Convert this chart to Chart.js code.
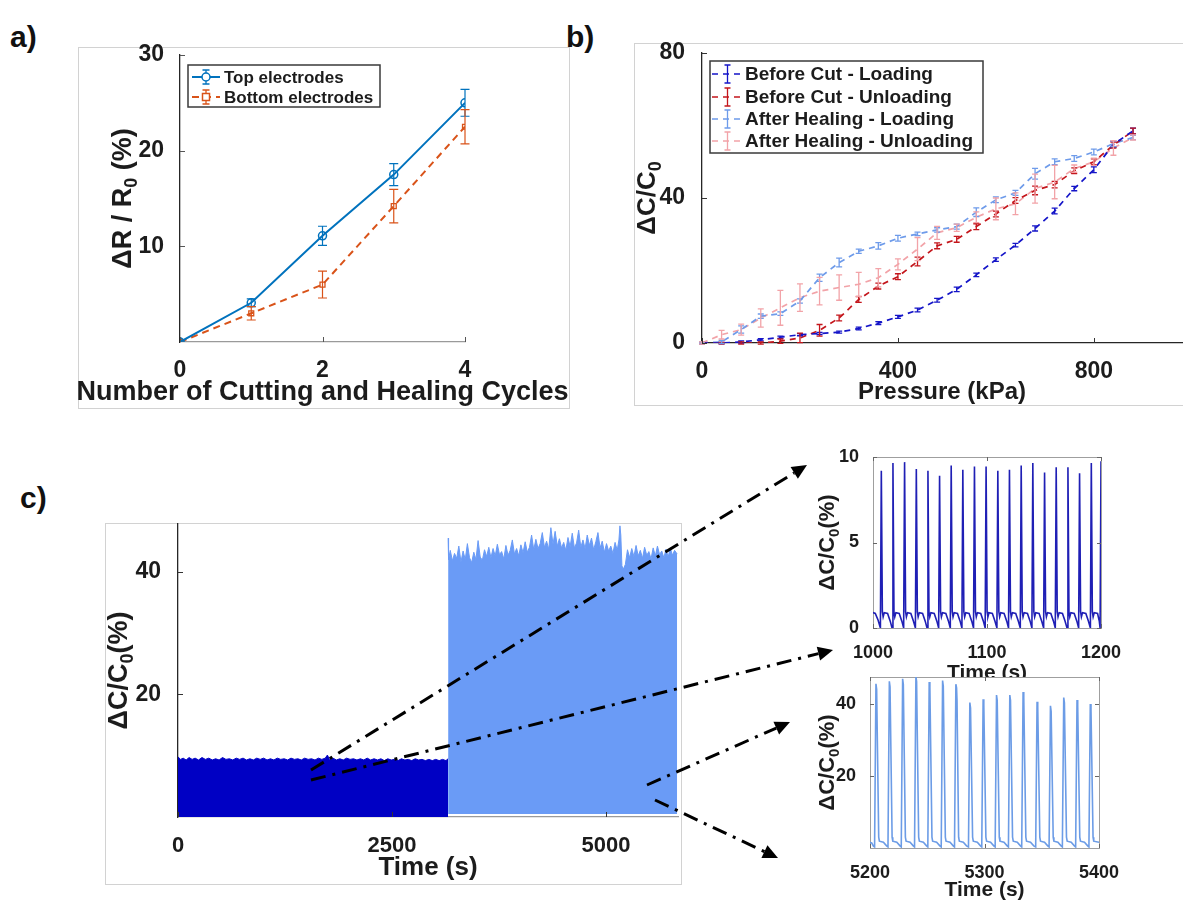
<!DOCTYPE html>
<html><head><meta charset="utf-8">
<script src="https://cdn.jsdelivr.net/npm/chart.js@4.4.1/dist/chart.umd.min.js"></script>
<style>
html,body{margin:0;padding:0;background:#fff;}
body{width:1183px;height:900px;position:relative;overflow:hidden;font-family:"Liberation Sans",Arial,sans-serif;}
.frame{position:absolute;border:1px solid #d2d2d2;box-sizing:border-box;}
canvas{position:absolute;}
.lbl{position:absolute;font:bold 30px "Liberation Sans",Arial,sans-serif;color:#111;line-height:30px;}
</style></head><body>
<div class="frame" style="left:78px;top:47px;width:492px;height:362px"></div>
<div class="frame" style="left:634px;top:43px;width:560px;height:363px"></div>
<div class="frame" style="left:105px;top:523px;width:577px;height:362px"></div>
<div class="lbl" style="left:10px;top:22px">a)</div>
<div class="lbl" style="left:566px;top:22px">b)</div>
<div class="lbl" style="left:20px;top:483px">c)</div>
<canvas id="ca"></canvas>
<canvas id="cb"></canvas>
<canvas id="cc"></canvas>
<canvas id="ci1"></canvas>
<canvas id="ci2" style="background:#fff"></canvas>
<canvas id="ov" width="1183" height="900" style="left:0;top:0;z-index:10;pointer-events:none"></canvas>
<script>
// ---------------- DATA ----------------
// Panel a
const aCycles = [0, 1, 2, 3, 4];
const aTop = [0, 4.1, 11.1, 17.5, 25.0];
const aTopErr = [0, 0.4, 1.0, 1.15, 1.4];
const aBottom = [0, 3.0, 6.0, 14.2, 22.5];
const aBottomErr = [0, 0.7, 1.4, 1.75, 1.8];
const aXTicks = [0, 2, 4];
const aYTicks = [10, 20, 30];

// Panel b
const bPressure = [0,40,80,120,160,200,240,280,320,360,400,440,480,520,560,600,640,680,720,760,800,840,880];
const bBeforeLoad = [0,0,0.3,0.9,1.6,2.3,2.6,3.0,4.0,5.5,7.2,9.1,11.8,14.8,18.8,23.0,27.0,31.6,36.4,42.6,47.8,54.8,58.5];
const bBeforeLoadErr = [0.2,0.2,0.3,0.3,0.3,0.3,0.3,0.3,0.4,0.4,0.4,0.5,0.5,0.6,0.5,0.5,0.5,0.7,0.8,0.6,0.8,0.8,0.8];
const bBeforeUnload = [0,0,0,0,0.5,1.4,3.5,6.9,12.0,15.7,18.3,22.5,26.8,28.6,32.1,35.6,39.3,42.1,43.7,47.5,50.0,54.6,58.5];
const bBeforeUnloadErr = [0.2,0.2,0.3,0.3,0.6,1.3,1.6,0.8,0.8,0.8,0.8,1.2,0.8,0.8,0.8,0.8,0.8,1.2,0.9,0.8,0.8,0.8,0.8];
const bAfterLoad = [0,0.3,3.7,7.4,8.1,11.6,18.0,22.2,25.3,26.8,28.9,30.1,31.2,32.1,36.1,39.5,41.4,46.7,50.0,50.9,52.7,55.0,56.7];
const bAfterLoadErr = [0.2,0.4,1.0,0.6,0.5,0.6,1.0,1.2,0.6,0.9,0.8,0.5,0.6,0.7,1.2,0.8,0.7,1.5,0.8,0.8,0.8,0.8,0.6];
const bAfterUnload = [0,2.3,3.7,6.9,9.7,12.5,14.3,15.3,16.2,18.0,21.7,25.9,30.4,31.8,34.7,37.0,38.4,42.6,44.4,48.1,50.0,53.8,56.7];
const bAfterUnloadErr = [0.3,1.2,1.5,2.5,4.8,3.8,3.8,3.5,3.3,2.5,1.5,3.2,1.8,1.0,1.5,3.0,3.0,4.0,4.6,1.0,1.0,2.0,0.7];
const bXTicks = [0, 400, 800];
const bYTicks = [0, 40, 80];

// Panel c (upper envelope of the dense cycling signal)
const cBeforeTop = [[0,9.8],[30,9.4],[60,9.6],[95,9.3],[130,9.7],[165,9.4],[200,9.6],[240,9.3],[280,9.7],[320,9.4],[360,9.6],[400,9.3],[440,9.5],[480,9.3],[520,9.7],[560,9.4],[600,9.5],[640,9.3],[680,9.6],[720,9.4],[760,9.6],[800,9.3],[840,9.5],[880,9.3],[920,9.6],[960,9.4],[1000,9.6],[1040,9.3],[1080,9.5],[1120,9.3],[1160,9.6],[1200,9.4],[1240,9.5],[1280,9.3],[1320,9.6],[1360,9.4],[1400,9.5],[1440,9.3],[1480,9.6],[1520,9.4],[1560,9.5],[1600,9.3],[1640,9.6],[1680,9.4],[1720,9.6],[1745,10.1],[1770,9.4],[1810,9.6],[1850,9.3],[1890,9.5],[1930,9.3],[1970,9.6],[2010,9.4],[2050,9.5],[2090,9.3],[2130,9.5],[2170,9.3],[2210,9.6],[2250,9.3],[2290,9.5],[2330,9.3],[2370,9.5],[2410,9.2],[2450,9.5],[2490,9.3],[2530,9.4],[2570,9.2],[2610,9.5],[2650,9.3],[2690,9.4],[2730,9.2],[2770,9.5],[2810,9.3],[2850,9.4],[2890,9.2],[2930,9.4],[2970,9.2],[3010,9.4],[3050,9.2],[3090,9.4],[3130,9.2],[3155,9.5]];
const cAfterTop = [[3155,45.5],[3160,42.0],[3180,43.5],[3205,41.8],[3230,43.0],[3255,42.2],[3280,44.2],[3305,41.6],[3330,43.4],[3355,42.0],[3380,44.6],[3405,42.3],[3430,41.5],[3455,43.2],[3480,42.0],[3505,45.1],[3530,42.4],[3555,41.9],[3580,43.6],[3605,42.5],[3630,44.0],[3655,42.3],[3680,43.8],[3705,42.6],[3730,44.5],[3755,42.8],[3780,43.3],[3805,42.1],[3830,44.3],[3855,42.7],[3880,43.5],[3905,45.2],[3930,42.9],[3955,43.8],[3980,42.6],[4005,44.4],[4030,43.1],[4055,44.9],[4080,43.2],[4105,44.0],[4130,46.0],[4155,43.6],[4180,45.3],[4205,43.8],[4230,44.6],[4255,46.4],[4280,44.0],[4305,45.0],[4330,43.7],[4355,47.2],[4380,44.5],[4405,46.6],[4430,44.2],[4455,45.4],[4480,43.9],[4505,44.8],[4530,43.5],[4555,45.6],[4580,44.1],[4605,46.3],[4630,43.9],[4655,44.7],[4680,46.8],[4705,44.0],[4730,45.2],[4755,43.8],[4780,46.0],[4805,44.3],[4830,45.5],[4855,43.6],[4880,44.9],[4905,46.4],[4930,43.9],[4955,45.0],[4980,43.2],[5005,44.6],[5030,43.4],[5055,44.2],[5080,43.0],[5105,44.8],[5130,43.5],[5150,45.2],[5162,47.5],[5172,46.0],[5185,41.0],[5200,40.4],[5225,41.2],[5250,43.6],[5275,42.3],[5300,43.8],[5325,42.5],[5350,44.3],[5375,42.6],[5400,43.5],[5425,42.2],[5450,44.0],[5475,42.7],[5500,43.3],[5525,42.1],[5550,43.9],[5575,42.6],[5600,44.2],[5625,42.8],[5650,43.4],[5675,42.3],[5700,43.7],[5725,42.4],[5750,43.9],[5775,42.7],[5800,43.5],[5830,42.9]];
const cAfterBottom = 0.5;
const cXTicks = [0, 2500, 5000];
const cYTicks = [20, 40];

// Inset 1 : before cut, 1000-1200 s
const insetBefore = [
[1000,0.9],[1002,0.85],[1004.5,0.45],
[1006.5,0],[1007.3,9.2],[1008.2,0.95],[1008.9,0.65],[1009.9,0.9],[1012.8,0.85],[1015.1,0.4],
[1016.7,0],[1017.5,9.65],[1018.4,0.95],[1019.1,0.65],[1020.1,0.9],[1023,0.85],[1025.3,0.4],
[1026.9,0],[1027.7,9.7],[1028.6,0.95],[1029.3,0.65],[1030.3,0.9],[1033.2,0.85],[1035.5,0.4],
[1037.2,0],[1038,9.3],[1038.9,0.95],[1039.6,0.65],[1040.6,0.9],[1043.5,0.85],[1045.8,0.4],
[1047.4,0],[1048.2,9.2],[1049.1,0.95],[1049.8,0.65],[1050.8,0.9],[1053.7,0.85],[1056,0.4],
[1057.6,0],[1058.4,8.9],[1059.3,0.95],[1060,0.65],[1061,0.9],[1063.9,0.85],[1066.2,0.4],
[1067.8,0],[1068.6,9.5],[1069.5,0.95],[1070.2,0.65],[1071.2,0.9],[1074.1,0.85],[1076.4,0.4],
[1078,0],[1078.8,9.25],[1079.7,0.95],[1080.4,0.65],[1081.4,0.9],[1084.3,0.85],[1086.6,0.4],
[1088.2,0],[1089,9.45],[1089.9,0.95],[1090.6,0.65],[1091.6,0.9],[1094.5,0.85],[1096.8,0.4],
[1098.4,0],[1099.2,9.45],[1100.1,0.95],[1100.8,0.65],[1101.8,0.9],[1104.7,0.85],[1107,0.4],
[1108.7,0],[1109.5,9.2],[1110.4,0.95],[1111.1,0.65],[1112.1,0.9],[1115,0.85],[1117.3,0.4],
[1118.9,0],[1119.7,9.25],[1120.6,0.95],[1121.3,0.65],[1122.3,0.9],[1125.2,0.85],[1127.5,0.4],
[1129.2,0],[1130,9.5],[1130.9,0.95],[1131.6,0.65],[1132.6,0.9],[1135.5,0.85],[1137.8,0.4],
[1139.4,0],[1140.2,9.65],[1141.1,0.95],[1141.8,0.65],[1142.8,0.9],[1145.7,0.85],[1148,0.4],
[1149.7,0],[1150.5,9.1],[1151.4,0.95],[1152.1,0.65],[1153.1,0.9],[1156,0.85],[1158.3,0.4],
[1159.9,0],[1160.7,9.4],[1161.6,0.95],[1162.3,0.65],[1163.3,0.9],[1166.2,0.85],[1168.5,0.4],
[1170.2,0],[1171,9.4],[1171.9,0.95],[1172.6,0.65],[1173.6,0.9],[1176.5,0.85],[1178.8,0.4],
[1180.4,0],[1181.2,9.05],[1182.1,0.95],[1182.8,0.65],[1183.8,0.9],[1186.7,0.85],[1189,0.4],
[1190.7,0],[1191.5,9.65],[1192.4,0.95],[1193.1,0.65],[1194.1,0.9],[1197,0.85],[1198.5,0.4],
[1199.2,0],[1200,9.75]];
const i1XTicks = [1000, 1100, 1200];
const i1YTicks = [0, 5, 10];

// Inset 2 : after healing, 5200-5400 s
const insetAfter = [
[5200,1.5],[5201.5,1.4],[5203,0.5],
[5204,0.3],[5205.2,45.6],[5205.8,44.1],[5207.6,3],[5208.2,1.9],[5211.7,1.6],[5214.5,0.6],
[5215.7,0.3],[5216.9,46.3],[5217.5,44.8],[5219.3,3],[5219.9,1.9],[5223.4,1.6],[5226.2,0.6],
[5227.3,0.3],[5228.5,47],[5229.1,45.5],[5230.9,3],[5231.5,1.9],[5235,1.6],[5237.8,0.6],
[5238.9,0.3],[5240.1,47.7],[5240.7,46.2],[5242.5,3],[5243.1,1.9],[5246.6,1.6],[5249.4,0.6],
[5250.5,0.3],[5251.7,46.1],[5252.3,44.6],[5254.1,3],[5254.7,1.9],[5258.2,1.6],[5261,0.6],
[5262.2,0.3],[5263.4,46.5],[5264,45],[5265.8,3],[5266.4,1.9],[5269.9,1.6],[5272.7,0.6],
[5273.8,0.3],[5275,45.5],[5275.6,44.5],[5276,41],[5277.4,3],[5278,1.9],[5281.5,1.6],[5284.3,0.6],
[5286,0.3],[5287.2,40.4],[5287.8,38.9],[5289.6,3],[5290.2,1.9],[5293.7,1.6],[5296.5,0.6],
[5297.6,0.3],[5298.8,41.3],[5299.4,39.8],[5301.2,3],[5301.8,1.9],[5305.3,1.6],[5308.1,0.6],
[5309.3,0.3],[5310.5,42.5],[5311.1,41],[5312.9,3],[5313.5,1.9],[5317,1.6],[5319.8,0.6],
[5320.9,0.3],[5322.1,42.5],[5322.7,41],[5324.5,3],[5325.1,1.9],[5328.6,1.6],[5331.4,0.6],
[5332.5,0.3],[5333.7,43.3],[5334.3,41.8],[5336.1,3],[5336.7,1.9],[5340.2,1.6],[5343,0.6],
[5344.7,0.3],[5345.9,40.6],[5346.5,39.1],[5348.3,3],[5348.9,1.9],[5352.4,1.6],[5355.2,0.6],
[5356.4,0.3],[5357.6,39.5],[5358.2,38],[5360,3],[5360.6,1.9],[5364.1,1.6],[5366.9,0.6],
[5368,0.3],[5369.2,41.8],[5369.8,40.3],[5371.6,3],[5372.2,1.9],[5375.7,1.6],[5378.5,0.6],
[5379.6,0.3],[5380.8,41.1],[5381.4,39.6],[5383.2,3],[5383.8,1.9],[5387.3,1.6],[5390.1,0.6],
[5391.2,0.3],[5392.4,40],[5393,38.5],[5394.8,3],[5395.4,1.9],[5400,1.6]];
const i2XTicks = [5200, 5300, 5400];
const i2YTicks = [20, 40];

// ---------------- LAYOUT / STYLE ----------------
const FONT = '"Liberation Sans", Arial, sans-serif';
const TXT = '#1c1c1c';
Chart.defaults.font.family = FONT;
Chart.defaults.color = TXT;
Chart.defaults.animation = false;

// box: canvas [left, top, width, height]; area: chart area [left, top, right, bottom] (page px)
// xt / yt: page position of the x-title centre line (y) and y-title centre line (x)
const LAYOUT = {
  a:  {box:[78,30,491,378],  area:[180,55,465,342],   xt:393, yt:124},
  b:  {box:[634,30,549,375], area:[702,53,1182,343],  xt:392, yt:648},
  c:  {box:[105,505,576,379], area:[178,524,678,817], xt:868, yt:120},
  i1: {box:[800,440,383,240], area:[873,457,1101,628], xt:673, yt:828},
  i2: {box:[800,677,383,223], area:[870,677,1099,848], xt:890, yt:828}
};

const xy = arr => arr.map(p => ({x: p[0], y: p[1]}));
const zipXY = (xs, ys) => xs.map((x, i) => ({x, y: ys[i]}));

// ---------------- PLUGINS ----------------
const innerTicks = {
  id: 'innerTicks',
  afterDraw(chart, args, o) {
    if (!o || !o.len) return;
    const {ctx, chartArea: a} = chart;
    const xs = chart.scales.x, ys = chart.scales.y;
    ctx.save();
    ctx.strokeStyle = o.color || '#333'; ctx.lineWidth = 1; ctx.setLineDash([]);
    ctx.beginPath();
    xs.ticks.forEach(t => {
      const p = Math.round(xs.getPixelForValue(t.value)) + 0.5;
      ctx.moveTo(p, a.bottom); ctx.lineTo(p, a.bottom - o.len);
      if (o.mirror) { ctx.moveTo(p, a.top); ctx.lineTo(p, a.top + o.len); }
    });
    ys.ticks.forEach(t => {
      const p = Math.round(ys.getPixelForValue(t.value)) + 0.5;
      ctx.moveTo(a.left, p); ctx.lineTo(a.left + o.len, p);
      if (o.mirror) { ctx.moveTo(a.right, p); ctx.lineTo(a.right - o.len, p); }
    });
    ctx.stroke();
    ctx.restore();
  }
};

const boxFrame = {
  id: 'boxFrame',
  beforeDatasetsDraw(chart, args, o) {
    if (!o || !o.color) return;
    const {ctx, chartArea: a} = chart;
    ctx.save(); ctx.strokeStyle = o.color; ctx.lineWidth = 1; ctx.setLineDash([]);
    ctx.strokeRect(Math.round(a.left) + 0.5, Math.round(a.top) + 0.5, Math.round(a.right - a.left), Math.round(a.bottom - a.top));
    ctx.restore();
  }
};

const errorBars = {
  id: 'errorBars',
  afterDatasetsDraw(chart) {
    const {ctx} = chart; const xs = chart.scales.x, ys = chart.scales.y;
    ctx.save();
    chart.data.datasets.forEach(ds => {
      if (!ds.errors) return;
      ctx.strokeStyle = ds.borderColor; ctx.lineWidth = ds.errWidth || 1.2; ctx.setLineDash([]);
      const c = (ds.capWidth || 6) / 2;
      ds.data.forEach((pt, i) => {
        const e = ds.errors[i]; if (!e) return;
        const x = xs.getPixelForValue(pt.x);
        const y1 = ys.getPixelForValue(pt.y - e), y2 = ys.getPixelForValue(pt.y + e);
        ctx.beginPath();
        ctx.moveTo(x, y1); ctx.lineTo(x, y2);
        ctx.moveTo(x - c, y1); ctx.lineTo(x + c, y1);
        ctx.moveTo(x - c, y2); ctx.lineTo(x + c, y2);
        ctx.stroke();
      });
    });
    ctx.restore();
  }
};

const boxLegend = {
  id: 'boxLegend',
  afterDraw(chart, args, o) {
    if (!o || !o.box) return;
    const ctx = chart.ctx; ctx.save();
    const [bx, by, bw, bh] = o.box;
    ctx.fillStyle = '#fff'; ctx.fillRect(bx, by, bw, bh);
    ctx.strokeStyle = '#3a3a3a'; ctx.lineWidth = 1.5; ctx.setLineDash([]); ctx.strokeRect(bx, by, bw, bh);
    chart.data.datasets.forEach((ds, i) => {
      const y = o.rows[i]; const [x0, x1] = o.sample; const xm = (x0 + x1) / 2;
      ctx.strokeStyle = ds.borderColor; ctx.lineWidth = ds.borderWidth; ctx.setLineDash(ds.borderDash || []);
      ctx.beginPath(); ctx.moveTo(x0, y); ctx.lineTo(x1, y); ctx.stroke();
      ctx.setLineDash([]); ctx.lineWidth = 1.3;
      const h = o.errH, c = o.cap / 2;
      ctx.beginPath();
      ctx.moveTo(xm, y - h); ctx.lineTo(xm, y + h);
      ctx.moveTo(xm - c, y - h); ctx.lineTo(xm + c, y - h);
      ctx.moveTo(xm - c, y + h); ctx.lineTo(xm + c, y + h);
      ctx.stroke();
      if (ds.pointRadius) {
        ctx.fillStyle = '#fff'; ctx.lineWidth = 1.5; ctx.beginPath();
        if (ds.pointStyle === 'rect') { const r = ds.pointRadius; ctx.rect(xm - r, y - r, 2 * r, 2 * r); }
        else ctx.arc(xm, y, ds.pointRadius, 0, Math.PI * 2);
        ctx.fill(); ctx.stroke();
      }
      ctx.fillStyle = TXT; ctx.font = o.font; ctx.textBaseline = 'middle'; ctx.textAlign = 'left';
      ctx.fillText(ds.label, o.textX, y + 1);
    });
    ctx.restore();
  }
};

// axis titles with real subscripts: parts = [[text, isSubscript], ...]
function drawRich(ctx, parts, x, y, size, rotate) {
  ctx.save(); ctx.translate(x, y); if (rotate) ctx.rotate(-Math.PI / 2);
  const big = 'bold ' + size + 'px ' + FONT, small = 'bold ' + Math.round(size * 0.68) + 'px ' + FONT;
  let w = 0;
  parts.forEach(([t, s]) => { ctx.font = s ? small : big; w += ctx.measureText(t).width; });
  let cx = -w / 2; ctx.textBaseline = 'middle'; ctx.textAlign = 'left'; ctx.fillStyle = TXT;
  parts.forEach(([t, s]) => { ctx.font = s ? small : big; ctx.fillText(t, cx, s ? size * 0.3 : 0); cx += ctx.measureText(t).width; });
  ctx.restore();
}
const axisTitles = {
  id: 'axisTitles',
  afterDraw(chart, args, o) {
    if (!o || !o.x) return;
    const a = chart.chartArea; const ctx = chart.ctx;
    drawRich(ctx, o.x.parts, (a.left + a.right) / 2, o.x.pos, o.x.size, false);
    drawRich(ctx, o.y.parts, o.y.pos, (a.top + a.bottom) / 2, o.y.size, true);
  }
};

// ---------------- HELPERS ----------------
function fixAxis(size, dim) {
  return s => { s[dim] = size; s.paddingTop = 0; s.paddingBottom = 0; s.paddingLeft = 0; s.paddingRight = 0; };
}
function setTicks(values) { return s => { s.ticks = values.map(v => ({value: v})); }; }

function axisX(o) {
  return {
    type: 'linear', min: o.min, max: o.max,
    afterBuildTicks: setTicks(o.ticks),
    afterFit: fixAxis(o.size, 'height'),
    grid: {display: false},
    border: {display: o.border !== false, color: o.borderColor || '#262626', width: 1.3},
    ticks: {font: {size: o.tickSize, weight: 'bold'}, padding: o.tickPad, autoSkip: false, maxRotation: 0, callback: v => String(v)},
    title: {display: false}
  };
}
function axisY(o) {
  return {
    type: 'linear', min: o.min, max: o.max,
    afterBuildTicks: setTicks(o.ticks),
    afterFit: fixAxis(o.size, 'width'),
    grid: {display: false},
    border: {display: o.border !== false, color: o.borderColor || '#262626', width: 1.3},
    ticks: {font: {size: o.tickSize, weight: 'bold'}, padding: o.tickPad, autoSkip: false, callback: v => String(v)},
    title: {display: false}
  };
}
function makeChart(id, key, datasets, xo, yo, plugOpts, plugins) {
  const {box, area, xt, yt} = LAYOUT[key];
  const cv = document.getElementById(id);
  cv.width = box[2]; cv.height = box[3];
  cv.style.left = box[0] + 'px'; cv.style.top = box[1] + 'px';
  cv.style.width = box[2] + 'px'; cv.style.height = box[3] + 'px';
  xo.size = box[1] + box[3] - area[3];
  yo.size = area[0] - box[0];
  plugOpts.axisTitles = {
    x: {parts: xo.title, size: xo.titleSize, pos: xt - box[1]},
    y: {parts: yo.title, size: yo.titleSize, pos: yt - box[0]}
  };
  return new Chart(cv, {
    type: 'line',
    data: {datasets},
    options: {
      responsive: false, animation: false, devicePixelRatio: 1,
      layout: {padding: {left: 0, top: area[1] - box[1], right: box[0] + box[2] - area[2], bottom: 0}},
      elements: {line: {tension: 0}},
      scales: {x: axisX(xo), y: axisY(yo)},
      plugins: Object.assign({legend: {display: false}, tooltip: {enabled: false}}, plugOpts)
    },
    plugins: plugins.concat([axisTitles])
  });
}
const toLocal = (key, px, py) => [px - LAYOUT[key].box[0], py - LAYOUT[key].box[1]];
const dCC = [['ΔC/C', false], ['0', true]];
const dCCpct = [['ΔC/C', false], ['0', true], ['(%)', false]];
const timeT = [['Time (s)', false]];

// ---------------- PANEL a ----------------
{
  const la = toLocal('a', 188, 65);
  const oy = LAYOUT.a.box[1], ox = LAYOUT.a.box[0];
  makeChart('ca', 'a', [
    {label: 'Top electrodes', data: zipXY(aCycles, aTop), errors: aTopErr, capWidth: 9,
     borderColor: '#0072BD', borderWidth: 2, pointStyle: 'circle', pointRadius: 4, pointBorderWidth: 1.5,
     pointBackgroundColor: 'rgba(0,0,0,0)', pointBorderColor: '#0072BD', fill: false},
    {label: 'Bottom electrodes', data: zipXY(aCycles, aBottom), errors: aBottomErr, capWidth: 9,
     borderColor: '#D95319', borderWidth: 2, borderDash: [7, 5], pointStyle: 'rect', pointRadius: 3.5, pointBorderWidth: 1.3,
     pointBackgroundColor: 'rgba(0,0,0,0)', pointBorderColor: '#D95319', fill: false}
  ],
  {min: 0, max: 4, ticks: aXTicks, tickSize: 23, tickPad: 7, title: [['Number of Cutting and Healing Cycles', false]], titleSize: 27, borderColor: '#9a9a9a'},
  {min: 0, max: 30, ticks: aYTicks, tickSize: 23, tickPad: 8, title: [['ΔR / R', false], ['0', true], [' (%)', false]], titleSize: 27},
  {innerTicks: {len: 5, color: '#555'},
   boxLegend: {box: [la[0], la[1], 192, 42], rows: [77 - oy, 97 - oy], sample: [192 - ox, 220 - ox], textX: 224 - ox,
               font: 'bold 17px ' + FONT, errH: 7, cap: 7}},
  [innerTicks, errorBars, boxLegend]);
}

// ---------------- PANEL b ----------------
{
  const lb = toLocal('b', 710, 61);
  const oy = LAYOUT.b.box[1], ox = LAYOUT.b.box[0];
  const mk = (label, ys, errs, color) => ({label, data: zipXY(bPressure, ys), errors: errs, capWidth: 6, errWidth: 1.3,
    borderColor: color, borderWidth: 1.7, borderDash: [6, 5], pointRadius: 0, fill: false});
  makeChart('cb', 'b', [
    mk('Before Cut - Loading', bBeforeLoad, bBeforeLoadErr, '#1515C8'),
    mk('Before Cut - Unloading', bBeforeUnload, bBeforeUnloadErr, '#C4161C'),
    mk('After Healing - Loading', bAfterLoad, bAfterLoadErr, '#6E9BEA'),
    mk('After Healing - Unloading', bAfterUnload, bAfterUnloadErr, '#F2A3A8')
  ],
  {min: 0, max: 980, ticks: bXTicks, tickSize: 23, tickPad: 7, title: [['Pressure (kPa)', false]], titleSize: 24},
  {min: 0, max: 80, ticks: bYTicks, tickSize: 23, tickPad: 9, title: dCC, titleSize: 26},
  {innerTicks: {len: 5, color: '#333'},
   boxLegend: {box: [lb[0], lb[1], 273, 92], rows: [74 - oy, 97 - oy, 119 - oy, 141 - oy], sample: [712 - ox, 743 - ox], textX: 745 - ox,
               font: 'bold 19px ' + FONT, errH: 9, cap: 6}},
  [innerTicks, errorBars, boxLegend]);
}

// ---------------- PANEL c ----------------
makeChart('cc', 'c', [
  {label: 'Before cut', data: xy(cBeforeTop), borderColor: '#0000C4', backgroundColor: '#0000C4', borderWidth: 1, pointRadius: 0, fill: {value: 0}},
  {label: 'After healing', data: xy(cAfterTop), borderColor: '#6A9BF6', backgroundColor: '#6A9BF6', borderWidth: 1, pointRadius: 0, fill: {value: cAfterBottom}}
],
{min: 0, max: 5840, ticks: cXTicks, tickSize: 22, tickPad: 8, title: timeT, titleSize: 26, borderColor: '#9a9a9a'},
{min: 0, max: 47.8, ticks: cYTicks, tickSize: 23, tickPad: 9, title: dCCpct, titleSize: 27},
{innerTicks: {len: 5, color: '#333'}},
[innerTicks]);

// ---------------- INSETS ----------------
makeChart('ci1', 'i1', [
  {label: 'Before cut', data: xy(insetBefore), borderColor: '#1F1FB5', borderWidth: 1.6, pointRadius: 0, fill: false}
],
{min: 1000, max: 1200, ticks: i1XTicks, tickSize: 18, tickPad: 6, title: timeT, titleSize: 21, border: false},
{min: 0, max: 10, ticks: i1YTicks, tickSize: 18, tickPad: 6, title: dCCpct, titleSize: 22, border: false},
{innerTicks: {len: 4, color: '#666', mirror: true}, boxFrame: {color: '#9f9f9f'}},
[boxFrame, innerTicks]);

makeChart('ci2', 'i2', [
  {label: 'After healing', data: xy(insetAfter), borderColor: '#6C9CE6', borderWidth: 1.6, pointRadius: 0, fill: false}
],
{min: 5200, max: 5400, ticks: i2XTicks, tickSize: 18, tickPad: 6, title: timeT, titleSize: 21, border: false},
{min: 0, max: 47.5, ticks: i2YTicks, tickSize: 18, tickPad: 6, title: dCCpct, titleSize: 22, border: false},
{innerTicks: {len: 4, color: '#666', mirror: true}, boxFrame: {color: '#9f9f9f'}},
[boxFrame, innerTicks]);

// ---------------- ZOOM ARROWS (annotation) ----------------
const ARROWS = [
  [311, 770, 807, 465],
  [311, 780, 833, 650],
  [647, 785, 790, 722],
  [655, 800, 778, 858]
];
{
  const ctx = document.getElementById('ov').getContext('2d');
  ctx.strokeStyle = '#000'; ctx.fillStyle = '#000'; ctx.lineWidth = 3;
  ARROWS.forEach(([x0, y0, x1, y1]) => {
    const ang = Math.atan2(y1 - y0, x1 - x0), L = 15, W = 7;
    const bx = x1 - L * Math.cos(ang), by = y1 - L * Math.sin(ang);
    ctx.setLineDash([15, 7, 3, 7]);
    ctx.beginPath(); ctx.moveTo(x0, y0); ctx.lineTo(bx, by); ctx.stroke();
    ctx.setLineDash([]);
    ctx.beginPath();
    ctx.moveTo(x1, y1);
    ctx.lineTo(bx + W * Math.sin(ang), by - W * Math.cos(ang));
    ctx.lineTo(bx - W * Math.sin(ang), by + W * Math.cos(ang));
    ctx.closePath(); ctx.fill();
  });
}
</script>
</body></html>
